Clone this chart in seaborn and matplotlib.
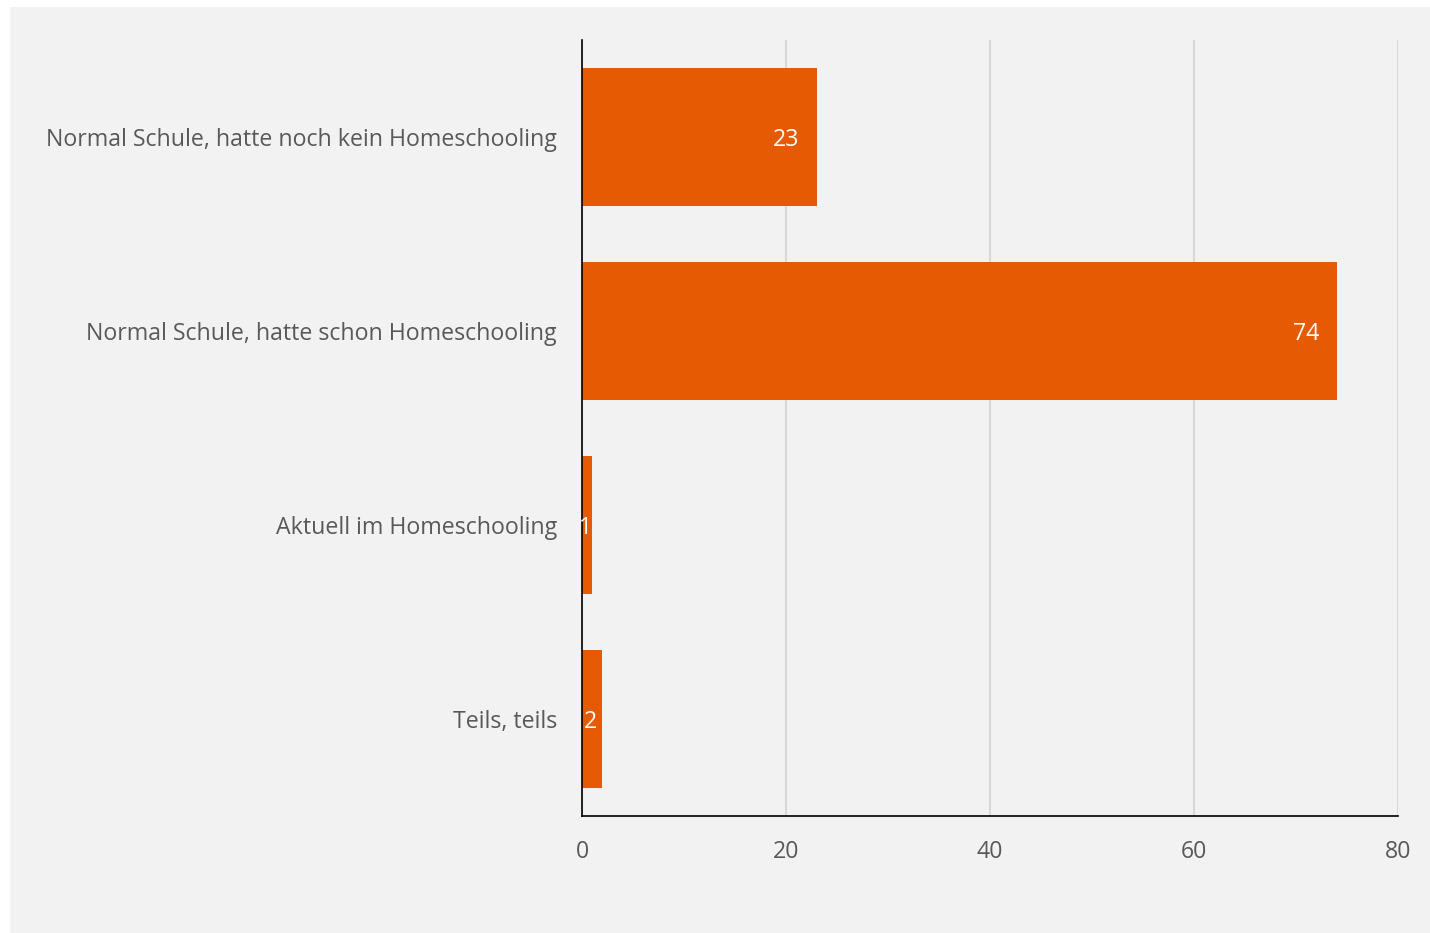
import matplotlib
matplotlib.use("Agg")
import matplotlib.pyplot as plt
import matplotlib.patches as mpatches
import seaborn as sns
import pandas as pd

categories = [
    "Normal Schule, hatte noch kein Homeschooling",
    "Normal Schule, hatte schon Homeschooling",
    "Aktuell im Homeschooling",
    "Teils, teils",
]
values = [23, 74, 1, 2]
x_ticks = [0, 20, 40, 60, 80]

df = pd.DataFrame({"category": categories, "value": values})

sns.set_theme(style="white")
plt.rcParams["font.family"] = ["Open Sans", "DejaVu Sans"]

BG = "#f2f2f2"
BAR = "#E65A03"
TXT = "#595959"
FS = 16.7

fig = plt.figure(figsize=(14.3, 9.33), dpi=100)
fig.patch.set_facecolor("white")
fig.patches.append(mpatches.Rectangle((10 / 1430, 0), 1420 / 1430, 1 - 7 / 933,
                                      transform=fig.transFigure, facecolor=BG,
                                      edgecolor="none", zorder=-10))

ax = fig.add_axes([582 / 1430, 1 - 816 / 933, 816 / 1430, 776 / 933])
ax.set_facecolor(BG)

sns.barplot(data=df, x="value", y="category", orient="h", color=BAR,
            saturation=1, width=0.71, ax=ax, zorder=3, linewidth=0,
            edgecolor=BAR)

ax.set_xlim(0, 80)
ax.set_xticks(x_ticks)
ax.set_xticklabels([str(t) for t in x_ticks])
ax.set_xlabel("")
ax.set_ylabel("")
ax.grid(axis="x", color="#d9d9d9", linewidth=1.5, zorder=0)
ax.grid(axis="y", visible=False)
ax.set_axisbelow(True)

for s in ["top", "right"]:
    ax.spines[s].set_visible(False)
for s in ["left", "bottom"]:
    ax.spines[s].set_visible(True)
    ax.spines[s].set_color("black")
    ax.spines[s].set_linewidth(1.2)
    ax.spines[s].set_zorder(4)

ax.tick_params(axis="x", length=0, pad=17, labelsize=FS, labelcolor=TXT)
ax.tick_params(axis="y", length=0, pad=18, labelsize=FS, labelcolor=TXT)

for i, v in enumerate(values):
    if v >= 10:
        off = -12.5
    else:
        off = -(v - 1) * 3.6
    ax.annotate(str(v), xy=(v, i), xytext=(off, 0), textcoords="offset points",
                ha="right", va="center_baseline", color="white", fontsize=FS,
                zorder=5)

fig.savefig("out.png", dpi=100, facecolor=fig.get_facecolor())
